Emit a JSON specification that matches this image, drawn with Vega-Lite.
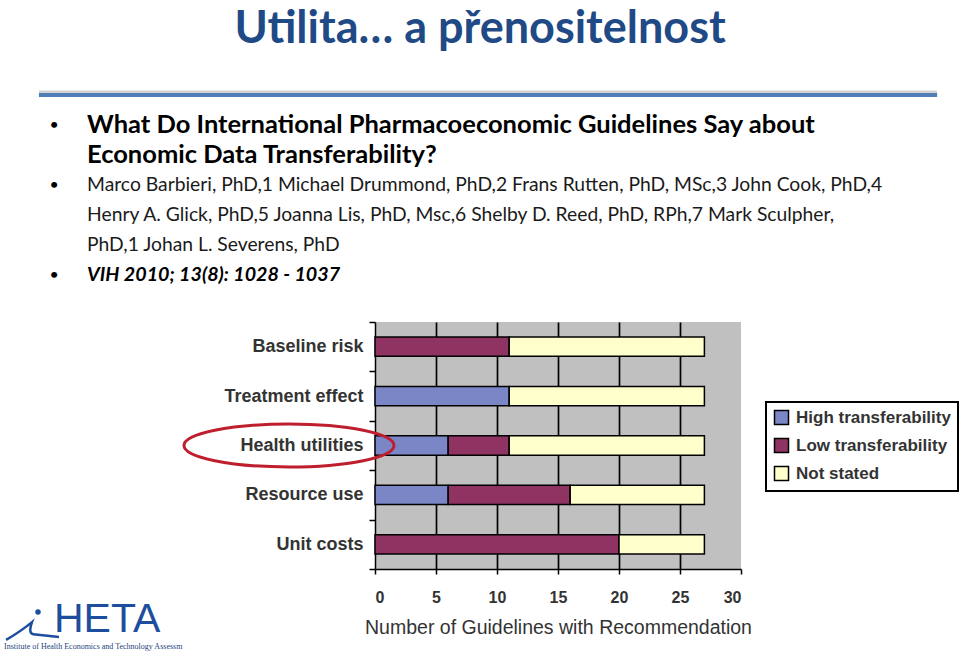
{
  "$schema": "https://vega.github.io/schema/vega-lite/v6.json",
  "background": "white",
  "padding": {"left": 1, "top": 6, "right": 0, "bottom": 0},
  "title": {
    "text": "Utilita… a přenositelnost",
    "font": "Lato",
    "fontSize": 45,
    "fontWeight": "bold",
    "color": "#1F4A86",
    "anchor": "middle",
    "offset": 39
  },
  "datasets": {
    "guidelines": [
      {"factor": "Baseline risk", "transferability": "Low transferability", "guidelines": 11},
      {"factor": "Baseline risk", "transferability": "Not stated", "guidelines": 16},
      {"factor": "Treatment effect", "transferability": "High transferability", "guidelines": 11},
      {"factor": "Treatment effect", "transferability": "Not stated", "guidelines": 16},
      {"factor": "Health utilities", "transferability": "High transferability", "guidelines": 6},
      {"factor": "Health utilities", "transferability": "Low transferability", "guidelines": 5},
      {"factor": "Health utilities", "transferability": "Not stated", "guidelines": 16},
      {"factor": "Resource use", "transferability": "High transferability", "guidelines": 6},
      {"factor": "Resource use", "transferability": "Low transferability", "guidelines": 10},
      {"factor": "Resource use", "transferability": "Not stated", "guidelines": 11},
      {"factor": "Unit costs", "transferability": "Low transferability", "guidelines": 20},
      {"factor": "Unit costs", "transferability": "Not stated", "guidelines": 7}
    ],
    "header": [
      {"line": 1, "part": "paper", "text": "What Do International Pharmacoeconomic Guidelines Say about"},
      {"line": 2, "part": "paper", "text": "Economic Data Transferability?"},
      {"line": 3, "part": "authors", "text": "Marco Barbieri, PhD,1 Michael Drummond, PhD,2 Frans Rutten, PhD, MSc,3 John Cook, PhD,4"},
      {"line": 4, "part": "authors", "text": "Henry A. Glick, PhD,5 Joanna Lis, PhD, Msc,6 Shelby D. Reed, PhD, RPh,7 Mark Sculpher,"},
      {"line": 5, "part": "authors", "text": "PhD,1 Johan L. Severens, PhD"},
      {"line": 6, "part": "citation", "text": "VIH 2010; 13(8): 1028 - 1037"}
    ]
  },
  "bounds": "flush",
  "spacing": 47,
  "resolve": {"scale": {"x": "independent", "y": "independent", "color": "independent"}, "legend": {"color": "independent"}},
  "vconcat": [
    {
      "width": 935,
      "height": 180,
      "layer": [
        {
          "data": {"values": [{}]},
          "mark": {"type": "rule", "color": "#BFBFBF", "strokeWidth": 3, "opacity": 0.7},
          "encoding": {
            "x": {"datum": 0.0374, "type": "quantitative", "scale": {"domain": [0, 1], "nice": false}, "axis": null},
            "x2": {"datum": 0.998},
            "y": {"datum": -0.1, "type": "quantitative", "scale": {"domain": [0, 6], "nice": false, "reverse": true}, "axis": null}
          }
        },
        {
          "data": {"values": [{}]},
          "mark": {"type": "rule", "color": "#4F7DB8", "strokeWidth": 4},
          "encoding": {
            "x": {"datum": 0.0374, "type": "quantitative"},
            "x2": {"datum": 0.998},
            "y": {"datum": 0, "type": "quantitative"}
          }
        },
        {
          "data": {"name": "header"},
          "transform": [{"filter": "datum.line == 1 || datum.line == 3 || datum.line == 6"}],
          "mark": {"type": "text", "text": "•", "font": "Lato", "fontSize": 16, "color": "black", "align": "center", "baseline": "middle"},
          "encoding": {
            "x": {"datum": 0.0535, "type": "quantitative"},
            "y": {"field": "line", "type": "quantitative"}
          }
        },
        {
          "data": {"name": "header"},
          "transform": [{"filter": "datum.part == 'paper'"}],
          "mark": {"type": "text", "font": "Lato", "fontSize": 25.5, "fontWeight": "bold", "color": "black", "align": "left", "baseline": "middle"},
          "encoding": {
            "x": {"datum": 0.0888, "type": "quantitative"},
            "y": {"field": "line", "type": "quantitative"},
            "text": {"field": "text"}
          }
        },
        {
          "data": {"name": "header"},
          "transform": [{"filter": "datum.part == 'authors'"}],
          "mark": {"type": "text", "font": "Lato", "fontSize": 19.3, "color": "#1a1a1a", "align": "left", "baseline": "middle"},
          "encoding": {
            "x": {"datum": 0.0888, "type": "quantitative"},
            "y": {"field": "line", "type": "quantitative"},
            "text": {"field": "text"}
          }
        },
        {
          "data": {"name": "header"},
          "transform": [{"filter": "datum.part == 'citation'"}],
          "mark": {"type": "text", "font": "Lato", "fontSize": 19.7, "fontWeight": "bold", "fontStyle": "italic", "color": "black", "align": "left", "baseline": "middle"},
          "encoding": {
            "x": {"datum": 0.0888, "type": "quantitative"},
            "y": {"field": "line", "type": "quantitative"},
            "text": {"field": "text"}
          }
        }
      ]
    },
    {
      "bounds": "flush",
      "spacing": 171,
      "resolve": {"scale": {"x": "independent", "y": "independent", "color": "independent"}, "legend": {"color": "independent"}},
      "hconcat": [
        {
          "width": 200,
          "height": 330,
          "data": {"values": [{}]},
          "layer": [
            {
              "mark": {"type": "text", "text": "HETA", "font": "Liberation Sans", "fontSize": 41, "color": "#1D4E9E", "align": "left", "baseline": "alphabetic"},
              "encoding": {
                "x": {"datum": 0.25, "type": "quantitative", "scale": {"domain": [0, 1], "nice": false}, "axis": null},
                "y": {"datum": 0.0606, "type": "quantitative", "scale": {"domain": [0, 1], "nice": false}, "axis": null}
              }
            },
            {
              "mark": {"type": "text", "text": "Institute of Health Economics and Technology Assessm", "font": "Liberation Serif", "fontSize": 8, "color": "#1D3F7E", "align": "left", "baseline": "alphabetic"},
              "encoding": {
                "x": {"datum": 0, "type": "quantitative"},
                "y": {"datum": 0.009, "type": "quantitative"}
              }
            },
            {
              "mark": {"type": "point", "shape": "circle", "filled": true, "size": 30, "color": "#1D4E9E", "opacity": 1},
              "encoding": {
                "x": {"datum": 0.17, "type": "quantitative"},
                "y": {"datum": 0.121, "type": "quantitative"}
              }
            },
            {
              "mark": {"type": "point", "shape": "M-0.96,0.33Q-0.4,0,0,-0.33Q-0.15,0.1,0.05,0.12L1,0.22", "filled": false, "size": 2916, "stroke": "#1D4E9E", "strokeWidth": 2.5, "opacity": 1},
              "encoding": {
                "x": {"datum": 0.14, "type": "quantitative"},
                "y": {"datum": 0.0636, "type": "quantitative"}
              }
            }
          ]
        },
        {
          "width": 366,
          "height": 247,
          "view": {"fill": "#C0C0C0", "stroke": null},
          "layer": [
            {
              "data": {"name": "guidelines"},
              "mark": {"type": "bar", "height": {"band": 0.39}, "stroke": "black", "strokeWidth": 1.5},
              "encoding": {
                "y": {
                  "field": "factor",
                  "type": "nominal",
                  "sort": ["Baseline risk", "Treatment effect", "Health utilities", "Resource use", "Unit costs"],
                  "scale": {"paddingInner": 0, "paddingOuter": 0},
                  "axis": {
                    "title": null,
                    "tickBand": "extent",
                    "domainColor": "black",
                    "domainWidth": 1.5,
                    "tickColor": "black",
                    "tickWidth": 1.5,
                    "tickSize": 6,
                    "labelFont": "Liberation Sans",
                    "labelFontWeight": "bold",
                    "labelFontSize": 18,
                    "labelColor": "#333333",
                    "labelPadding": 6
                  }
                },
                "x": {
                  "field": "guidelines",
                  "type": "quantitative",
                  "stack": "zero",
                  "scale": {"domain": [0, 30], "nice": false},
                  "axis": {
                    "title": "Number of Guidelines with Recommendation",
                    "values": [0, 5, 10, 15, 20, 25, 30],
                    "grid": true,
                    "gridColor": {"condition": {"test": "datum.value === 0 || datum.value === 30", "value": "transparent"}, "value": "black"},
                    "gridWidth": 1.7,
                    "domainColor": "black",
                    "domainWidth": 1.5,
                    "tickColor": "black",
                    "tickWidth": 1.5,
                    "tickSize": 5,
                    "labelFont": "Liberation Sans",
                    "labelFontWeight": "bold",
                    "labelFontSize": 16,
                    "labelColor": "#333333",
                    "labelPadding": 15,
                    "titleFont": "Liberation Sans",
                    "titleFontSize": 19.5,
                    "titleFontWeight": "normal",
                    "titleColor": "#333333",
                    "titlePadding": 13
                  }
                },
                "color": {
                  "field": "transferability",
                  "type": "nominal",
                  "scale": {
                    "domain": ["High transferability", "Low transferability", "Not stated"],
                    "range": ["#7B86C6", "#8E3362", "#FFFFCC"]
                  },
                  "legend": {
                    "title": null,
                    "orient": "none",
                    "legendX": 391,
                    "legendY": 80,
                    "fillColor": "white",
                    "strokeColor": "black",
                    "padding": 7,
                    "rowPadding": 7,
                    "symbolType": "square",
                    "symbolSize": 196,
                    "symbolStrokeColor": "black",
                    "symbolStrokeWidth": 1.5,
                    "symbolOpacity": 1,
                    "labelFont": "Liberation Sans",
                    "labelFontWeight": "bold",
                    "labelFontSize": 17,
                    "labelColor": "#333333",
                    "labelOffset": 6,
                    "labelLimit": 300
                  }
                }
              }
            },
            {
              "data": {"values": [{}]},
              "mark": {"type": "point", "shape": "M-1,0A1,0.205,0,1,1,1,0A1,0.205,0,1,1,-1,0Z", "size": 44100, "filled": false, "stroke": "#BE1E2D", "strokeWidth": 3, "opacity": 1},
              "encoding": {
                "x": {"datum": -7.05, "type": "quantitative"},
                "y": {"datum": "Health utilities", "type": "nominal"}
              }
            }
          ]
        }
      ]
    }
  ],
  "config": {
    "view": {"stroke": null},
    "font": "Liberation Sans",
    "legend": {"strokeWidth": 2}
  }
}
